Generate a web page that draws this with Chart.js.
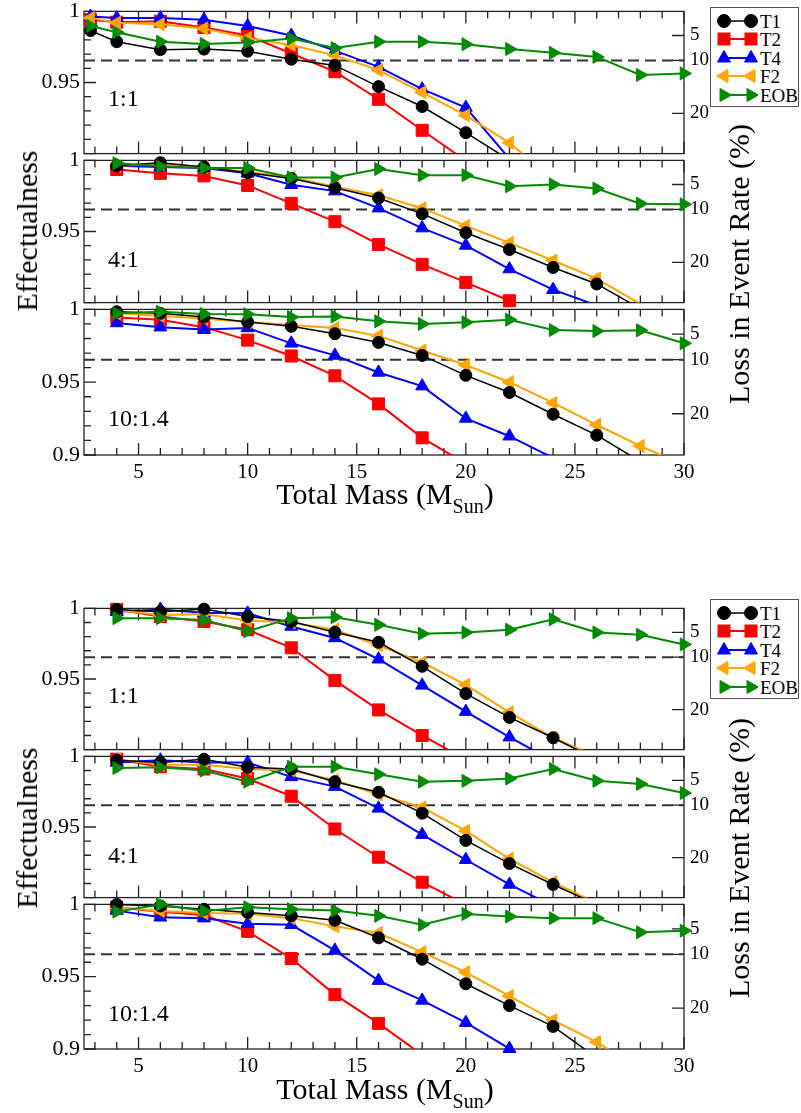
<!DOCTYPE html>
<html>
<head>
<meta charset="utf-8">
<script src="https://cdn.jsdelivr.net/npm/chart.js@4.4.0/dist/chart.umd.min.js"></script>
<style>
  body { margin: 0; background: #fff; }
  #page { position: relative; width: 801px; height: 1113px; overflow: hidden; font-family: "Liberation Serif", "DejaVu Serif", serif; color: #000; }
  #page canvas { position: absolute; left: 0; }
  .txt { position: absolute; white-space: nowrap; line-height: 1; }
  .rot { transform: translate(-50%, -50%) rotate(-90deg); font-size: 30px; }
  .xtitle { transform: translate(-50%, -50%); font-size: 30px; }
  .xtitle sub { font-size: 20px; vertical-align: -9px; line-height: 0; }
  .ratio { font-size: 24px; transform: translateY(-50%); }
  .legend { position: absolute; left: 710px; width: 87px; height: 98px; border: 1.5px solid #555; background: #fff; }
  .legend svg { position: absolute; left: 3px; }
  .legend span { position: absolute; left: 49px; font-size: 19px; line-height: 1; transform: translateY(-50%); }
</style>
</head>
<body>
<div id="page"></div>
<script>
// x values (total mass) and axis ticks
var MASS_A = [2.8, 4, 6, 8, 10, 12, 14, 16, 18, 20, 22, 24, 26, 28, 30];
var MASS_B = [4, 6, 8, 10, 12, 14, 16, 18, 20, 22, 24, 26, 28, 30];
var X_MIN = 2.5, X_MAX = 30;
var X_TICKS = [5, 10, 15, 20, 25, 30];
var Y_TICKS = [0.9, 0.95, 1];
var LOSS_TICKS = [5, 10, 20];
var LOSS_LINE = 10;
var SERIES_NAMES = ['T1', 'T2', 'T4', 'F2', 'EOB'];
var RATIO_LABELS = ['1:1', '4:1', '10:1.4'];

// upper figure, 1:1
var U11_T1 = [0.9865, 0.9787, 0.9731, 0.9735, 0.9720, 0.9664, 0.9620, 0.9471, 0.9331, 0.9147, 0.8955];
var U11_T2 = [0.9942, 0.9924, 0.9931, 0.9887, 0.9831, 0.9704, 0.9576, 0.9382, 0.9164, 0.8950];
var U11_T4 = [0.9964, 0.9953, 0.9953, 0.9942, 0.9898, 0.9831, 0.9724, 0.9610, 0.9453, 0.9324, 0.8964];
var U11_F2 = [0.9953, 0.9920, 0.9909, 0.9880, 0.9813, 0.9764, 0.9691, 0.9587, 0.9431, 0.9269, 0.9076, 0.8820];
var U11_EOB = [0.9898, 0.9853, 0.9787, 0.9771, 0.9782, 0.9809, 0.9742, 0.9787, 0.9787, 0.9769, 0.9735, 0.9709, 0.9680, 0.9553, 0.9564];
// upper figure, 4:1
var U41_T1 = [0.9962, 0.9984, 0.9953, 0.9913, 0.9873, 0.9807, 0.9735, 0.9624, 0.9491, 0.9373, 0.9247, 0.9131, 0.8957];
var U41_T2 = [0.9936, 0.9909, 0.9891, 0.9824, 0.9698, 0.9569, 0.9409, 0.9269, 0.9142, 0.9013, 0.8880];
var U41_T4 = [0.9962, 0.9953, 0.9947, 0.9909, 0.9829, 0.9784, 0.9664, 0.9524, 0.9402, 0.9236, 0.9091, 0.8980];
var U41_F2 = [0.9962, 0.9975, 0.9953, 0.9918, 0.9882, 0.9815, 0.9755, 0.9664, 0.9540, 0.9420, 0.9296, 0.9169, 0.8990];
var U41_EOB = [0.9980, 0.9958, 0.9947, 0.9947, 0.9880, 0.9880, 0.9940, 0.9896, 0.9896, 0.9818, 0.9831, 0.9802, 0.9696, 0.9691];
// upper figure, 10:1.4
var U10_T1 = [0.9984, 0.9973, 0.9947, 0.9913, 0.9884, 0.9833, 0.9773, 0.9684, 0.9547, 0.9429, 0.9280, 0.9136, 0.8955];
var U10_T2 = [0.9944, 0.9929, 0.9878, 0.9789, 0.9680, 0.9544, 0.9351, 0.9118, 0.8940];
var U10_T4 = [0.9907, 0.9878, 0.9862, 0.9873, 0.9767, 0.9684, 0.9567, 0.9473, 0.9251, 0.9129, 0.8980];
var U10_F2 = [0.9973, 0.9956, 0.9935, 0.9913, 0.9893, 0.9873, 0.9818, 0.9718, 0.9618, 0.9500, 0.9358, 0.9207, 0.9062, 0.8930];
var U10_EOB = [0.9973, 0.9984, 0.9969, 0.9967, 0.9947, 0.9951, 0.9918, 0.9900, 0.9911, 0.9929, 0.9858, 0.9851, 0.9856, 0.9767];

// lower figure, 1:1
var L11_T1 = [0.9993, 0.9977, 0.9995, 0.9942, 0.9907, 0.9831, 0.9760, 0.9590, 0.9397, 0.9228, 0.9084, 0.8930];
var L11_T2 = [0.9993, 0.9942, 0.9907, 0.9849, 0.9721, 0.9490, 0.9281, 0.9100, 0.8930];
var L11_T4 = [0.9977, 0.9993, 0.9969, 0.9965, 0.9872, 0.9791, 0.9640, 0.9455, 0.9269, 0.9088, 0.8920];
var L11_F2 = [0.9989, 0.9953, 0.9960, 0.9914, 0.9900, 0.9849, 0.9738, 0.9617, 0.9459, 0.9264, 0.9084, 0.8950];
var L11_EOB = [0.9931, 0.9931, 0.9918, 0.9838, 0.9931, 0.9938, 0.9884, 0.9821, 0.9830, 0.9849, 0.9923, 0.9830, 0.9814, 0.9745];
// lower figure, 4:1
var L41_T1 = [0.9973, 0.9957, 0.9980, 0.9923, 0.9911, 0.9821, 0.9746, 0.9598, 0.9405, 0.9241, 0.9093, 0.8950];
var L41_T2 = [0.9980, 0.9927, 0.9911, 0.9843, 0.9718, 0.9486, 0.9286, 0.9109, 0.8950];
var L41_T4 = [0.9957, 0.9973, 0.9957, 0.9957, 0.9855, 0.9786, 0.9632, 0.9446, 0.9268, 0.9093, 0.8940];
var L41_F2 = [0.9980, 0.9941, 0.9941, 0.9911, 0.9900, 0.9832, 0.9730, 0.9639, 0.9473, 0.9275, 0.9109, 0.8960];
var L41_EOB = [0.9918, 0.9923, 0.9900, 0.9821, 0.9927, 0.9927, 0.9873, 0.9821, 0.9827, 0.9843, 0.9911, 0.9827, 0.9805, 0.9741];
// lower figure, 10:1.4
var L10_T1 = [1.0000, 0.9989, 0.9966, 0.9944, 0.9921, 0.9890, 0.9769, 0.9621, 0.9451, 0.9300, 0.9156, 0.8940];
var L10_T2 = [0.9980, 0.9950, 0.9927, 0.9814, 0.9626, 0.9376, 0.9177, 0.8960];
var L10_T4 = [0.9957, 0.9911, 0.9905, 0.9866, 0.9859, 0.9682, 0.9473, 0.9336, 0.9182, 0.9002, 0.8850];
var L10_F2 = [0.9980, 0.9955, 0.9940, 0.9935, 0.9905, 0.9848, 0.9802, 0.9670, 0.9530, 0.9366, 0.9200, 0.9048, 0.8860];
var L10_EOB = [0.9950, 1.0000, 0.9955, 0.9980, 0.9966, 0.9957, 0.9921, 0.9859, 0.9934, 0.9916, 0.9905, 0.9905, 0.9807, 0.9818];

var STYLES = {
    T1: { color: '#000000', point: 'circle', radius: 6, rotation: 0, width: 1.5, z: 1 },
    T2: { color: '#ff0000', point: 'rect', radius: 8.5, rotation: 0, width: 2, z: 4 },
    T4: { color: '#0000ff', point: 'triangle', radius: 7.5, rotation: 0, width: 2, z: 3 },
    F2: { color: '#ffa500', point: 'triangle', radius: 7.5, rotation: -90, width: 2, z: 2 },
    EOB: { color: '#008b00', point: 'triangle', radius: 7.5, rotation: 90, width: 2, z: 0 }
};

var FIGURES = [
    { tops: [8, 157, 306], h: 149, legendTop: 7, yTitle: 231, lossTitle: 264, xTitle: 494,
      panels: [
          { mass: MASS_A, series: [U11_T1, U11_T2, U11_T4, U11_F2, U11_EOB] },
          { mass: MASS_B, series: [U41_T1, U41_T2, U41_T4, U41_F2, U41_EOB] },
          { mass: MASS_B, series: [U10_T1, U10_T2, U10_T4, U10_F2, U10_EOB] }
      ] },
    { tops: [605, 753, 901], h: 148, legendTop: 599, yTitle: 828, lossTitle: 858, xTitle: 1089,
      panels: [
          { mass: MASS_B, series: [L11_T1, L11_T2, L11_T4, L11_F2, L11_EOB] },
          { mass: MASS_B, series: [L41_T1, L41_T2, L41_T4, L41_F2, L41_EOB] },
          { mass: MASS_B, series: [L10_T1, L10_T2, L10_T4, L10_F2, L10_EOB] }
      ] }
];
var RATIO_OFFSETS = [90, 102, 112];

function lossToE(loss) {
    return Math.cbrt(1 - loss / 100);
}

// frame and inward tick marks, drawn under the data like the original
var framePlugin = {
    id: 'frame',
    beforeDatasetsDraw: function (chart) {
        var ctx = chart.ctx, a = chart.chartArea;
        var xs = chart.scales.x, ys = chart.scales.y;
        ctx.save();
        ctx.strokeStyle = '#222';
        ctx.lineWidth = 1.3;
        ctx.strokeRect(a.left, a.top, a.right - a.left, a.bottom - a.top);
        ctx.beginPath();
        for (var m = Math.ceil(X_MIN); m <= X_MAX; m++) {
            var px = xs.getPixelForValue(m);
            var len = m % 5 === 0 ? 12 : 7;
            ctx.moveTo(px, a.bottom); ctx.lineTo(px, a.bottom - len);
            ctx.moveTo(px, a.top); ctx.lineTo(px, a.top + len);
        }
        for (var k = 0; k <= 10; k++) {
            var py = ys.getPixelForValue(0.9 + k * 0.01);
            var l = k % 5 === 0 ? 12 : 7;
            ctx.moveTo(a.left, py); ctx.lineTo(a.left + l, py);
        }
        LOSS_TICKS.forEach(function (loss) {
            var qy = ys.getPixelForValue(lossToE(loss));
            ctx.moveTo(a.right, qy); ctx.lineTo(a.right - 12, qy);
        });
        ctx.stroke();
        ctx.restore();
    }
};

function buildDatasets(panel) {
    var sets = [];
    var e10 = lossToE(LOSS_LINE);
    sets.push({
        data: [{ x: X_MIN, y: e10 }, { x: X_MAX, y: e10 }],
        borderColor: '#333', borderWidth: 2, borderDash: [11, 6],
        pointRadius: 0, order: 100
    });
    SERIES_NAMES.forEach(function (name, i) {
        var st = STYLES[name];
        var pts = panel.series[i].map(function (v, k) { return { x: panel.mass[k], y: v }; });
        sets.push({
            label: name,
            data: pts,
            borderColor: st.color, borderWidth: st.width,
            pointRadius: 0,
            clip: { left: 10, top: 10, right: 10, bottom: 0 },
            order: st.z * 2 + 1
        });
        sets.push({
            label: name + ' marks',
            data: pts.filter(function (p) { return p.y >= 0.9; }),
            showLine: false,
            pointStyle: st.point, pointRadius: st.radius, pointRotation: st.rotation,
            pointBackgroundColor: st.color, pointBorderColor: st.color, pointBorderWidth: 1,
            clip: false,
            order: st.z * 2
        });
    });
    return sets;
}

function makePanel(page, fig, idx) {
    var isBottom = idx === 2;
    var padTop = 14, padBottom = isBottom ? 0 : 14, xH = isBottom ? 34 : 0;
    var canvas = document.createElement('canvas');
    canvas.width = 801;
    canvas.height = padTop + fig.h + padBottom + xH;
    canvas.style.top = (fig.tops[idx] - padTop) + 'px';
    page.appendChild(canvas);

    new Chart(canvas.getContext('2d'), {
        type: 'line',
        data: { datasets: buildDatasets(fig.panels[idx]) },
        options: {
            responsive: false,
            animation: false,
            devicePixelRatio: 1,
            layout: { padding: { top: padTop, bottom: padBottom, left: 0, right: 0 }, autoPadding: false },
            plugins: { legend: { display: false }, tooltip: { enabled: false } },
            scales: {
                x: {
                    type: 'linear', min: X_MIN, max: X_MAX,
                    afterBuildTicks: function (s) { s.ticks = X_TICKS.map(function (v) { return { value: v }; }); },
                    afterFit: function (s) { s.height = xH; },
                    grid: { display: false, drawTicks: false },
                    border: { display: false },
                    ticks: {
                        display: isBottom, padding: 5, color: '#000', maxRotation: 0,
                        font: { family: 'Liberation Serif', size: 21 }
                    }
                },
                y: {
                    type: 'linear', position: 'left', min: 0.9, max: 1,
                    afterBuildTicks: function (s) { s.ticks = Y_TICKS.map(function (v) { return { value: v }; }); },
                    afterFit: function (s) { s.width = 84; },
                    grid: { display: false, drawTicks: false },
                    border: { display: false },
                    ticks: {
                        padding: 4, color: '#000',
                        font: { family: 'Liberation Serif', size: 22 },
                        callback: function (v) {
                            if (!isBottom && v < 0.91) return '';
                            return String(Number(v.toFixed(2)));
                        }
                    }
                },
                y2: {
                    type: 'linear', position: 'right', min: 0.9, max: 1,
                    afterBuildTicks: function (s) { s.ticks = LOSS_TICKS.map(function (l) { return { value: lossToE(l) }; }); },
                    afterFit: function (s) { s.width = 117; },
                    grid: { display: false, drawTicks: false },
                    border: { display: false },
                    ticks: {
                        padding: 6, color: '#000',
                        font: { family: 'Liberation Serif', size: 19 },
                        callback: function (v, i) { return String(LOSS_TICKS[i]); }
                    }
                }
            }
        },
        plugins: [framePlugin]
    });
}

function addText(page, cls, html, left, top) {
    var d = document.createElement('div');
    d.className = 'txt ' + cls;
    d.innerHTML = html;
    d.style.left = left + 'px';
    d.style.top = top + 'px';
    page.appendChild(d);
    return d;
}

function markerSvg(name) {
    var st = STYLES[name];
    var shape = function (cx) {
        var cy = 8;
        if (st.point === 'circle') return '<circle cx="' + cx + '" cy="' + cy + '" r="6.5"/>';
        if (st.point === 'rect') return '<rect x="' + (cx - 6) + '" y="' + (cy - 6) + '" width="12" height="12"/>';
        var p;
        if (st.rotation === 0) p = [[cx, cy - 7.5], [cx + 6.5, cy + 4], [cx - 6.5, cy + 4]];
        else if (st.rotation < 0) p = [[cx - 7.5, cy], [cx + 4, cy - 6.5], [cx + 4, cy + 6.5]];
        else p = [[cx + 7.5, cy], [cx - 4, cy - 6.5], [cx - 4, cy + 6.5]];
        return '<polygon points="' + p.map(function (q) { return q.join(','); }).join(' ') + '"/>';
    };
    return '<svg width="44" height="16" viewBox="0 0 44 16">' +
        '<g fill="' + st.color + '" stroke="' + st.color + '">' +
        '<line x1="10" y1="8" x2="37" y2="8" stroke-width="' + st.width + '"/>' +
        shape(10) + shape(37) + '</g></svg>';
}

function makeLegend(page, fig) {
    var box = document.createElement('div');
    box.className = 'legend';
    box.style.top = fig.legendTop + 'px';
    SERIES_NAMES.forEach(function (name, i) {
        var cy = 12.5 + i * 18.6;
        var wrap = document.createElement('div');
        wrap.innerHTML = markerSvg(name);
        var svg = wrap.firstChild;
        svg.style.top = (cy - 8) + 'px';
        box.appendChild(svg);
        var sp = document.createElement('span');
        sp.textContent = name;
        sp.style.top = cy + 'px';
        box.appendChild(sp);
    });
    page.appendChild(box);
}

var page = document.getElementById('page');
FIGURES.forEach(function (fig) {
    for (var i = 0; i < 3; i++) {
        makePanel(page, fig, i);
        addText(page, 'ratio', RATIO_LABELS[i], 108, fig.tops[i] + RATIO_OFFSETS[i]);
    }
    makeLegend(page, fig);
    addText(page, 'rot', 'Effectualness', 27, fig.yTitle);
    addText(page, 'rot', 'Loss in Event Rate (%)', 739, fig.lossTitle);
    addText(page, 'xtitle', 'Total Mass (M<sub>Sun</sub>)', 385, fig.xTitle);
});
</script>
</body>
</html>
